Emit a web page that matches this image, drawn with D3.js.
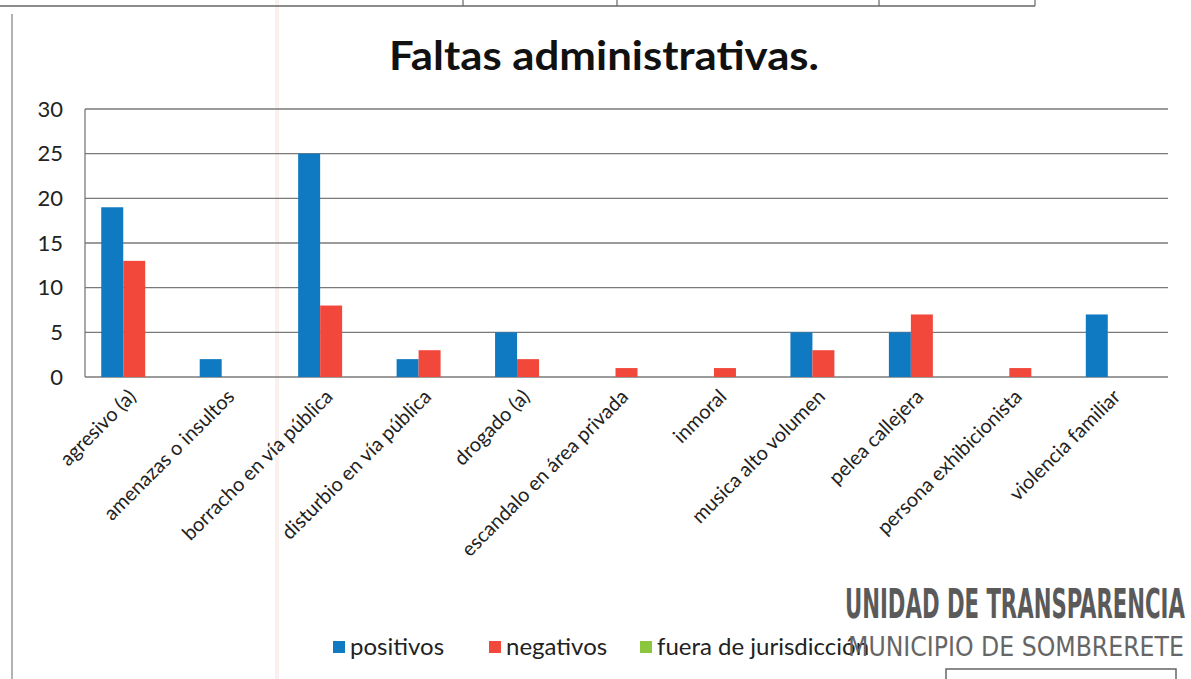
<!DOCTYPE html>
<html>
<head>
<meta charset="utf-8">
<script src="https://cdn.jsdelivr.net/npm/d3@7"></script>
<style>
  body { margin: 0; background: #fff; }
  svg { display: block; font-family: Lato, "Open Sans", sans-serif; }
</style>
</head>
<body>
<div id="chart"></div>
<script>
var categories = ["agresivo (a)", "amenazas o insultos", "borracho en vía pública",
                  "disturbio en vía pública", "drogado (a)", "escandalo en área privada",
                  "inmoral", "musica alto volumen", "pelea callejera",
                  "persona exhibicionista", "violencia familiar"];
var positivos = [19, 2, 25, 2, 5, 0, 0, 5, 5, 0, 7];
var negativos = [13, 0, 8, 3, 2, 1, 1, 3, 7, 1, 0];
var fuera = [0, 0, 0, 0, 0, 0, 0, 0, 0, 0, 0];
var seriesNames = ["positivos", "negativos", "fuera de jurisdicción"];
var yTicks = [0, 5, 10, 15, 20, 25, 30];

var w = 1191;
var h = 679;
var colors = ["#0f7ac2", "#f2483c", "#8cc63f"];

var svg = d3.select("#chart")
            .append("svg")
            .attr("width", w)
            .attr("height", h);

// scan leftovers: table above, page border, faint stripe
svg.append("line").attr("x1", 277).attr("x2", 277).attr("y1", 0).attr("y2", h)
   .attr("stroke", "#faf1ee").attr("stroke-width", 4);
svg.append("line").attr("x1", 0).attr("x2", 1035).attr("y1", 6).attr("y2", 6)
   .attr("stroke", "#666").attr("stroke-width", 1.5);
[463, 617, 879, 1035].forEach(function(x) {
    svg.append("line").attr("x1", x).attr("x2", x).attr("y1", 0).attr("y2", 6)
       .attr("stroke", "#666").attr("stroke-width", 1.2);
});
svg.append("line").attr("x1", 12).attr("x2", 12).attr("y1", 14).attr("y2", h)
   .attr("stroke", "#999").attr("stroke-width", 1.5);

var margin = {left: 85, right: 1168, top: 109, bottom: 377};

var data = categories.map(function(c, i) {
    return {cat: c, values: [positivos[i], negativos[i], fuera[i]]};
});

var x = d3.scaleBand()
          .domain(categories)
          .range([margin.left, margin.right])
          .paddingInner(0.33)
          .paddingOuter(0.165);

var x1 = d3.scaleBand()
           .domain([0, 1, 2])
           .range([0, x.bandwidth()]);

var y = d3.scaleLinear()
          .domain([0, 30])
          .range([margin.bottom, margin.top]);

// gridlines
svg.append("g")
   .selectAll("line")
   .data(yTicks)
   .enter()
   .append("line")
   .attr("x1", margin.left)
   .attr("x2", margin.right)
   .attr("y1", function(d) { return y(d); })
   .attr("y2", function(d) { return y(d); })
   .attr("stroke", "#7a7a7a")
   .attr("stroke-width", 1.3);

svg.append("line")
   .attr("x1", margin.left).attr("x2", margin.left)
   .attr("y1", margin.top).attr("y2", margin.bottom)
   .attr("stroke", "#7a7a7a").attr("stroke-width", 1.3);

// y axis labels
var yAxis = d3.axisLeft(y).tickValues(yTicks).tickSize(0).tickPadding(22);
svg.append("g")
   .attr("transform", "translate(" + margin.left + ",0)")
   .call(yAxis)
   .call(function(g) { g.select(".domain").remove(); })
   .selectAll("text")
   .attr("font-size", 22)
   .attr("font-family", "Lato, sans-serif")
   .attr("fill", "#222");

// bars
var groups = svg.append("g")
   .selectAll("g")
   .data(data)
   .enter()
   .append("g")
   .attr("transform", function(d) { return "translate(" + x(d.cat) + ",0)"; });

groups.selectAll("rect")
   .data(function(d) { return d.values; })
   .enter()
   .append("rect")
   .attr("x", function(d, i) { return x1(i); })
   .attr("y", function(d) { return y(d); })
   .attr("width", x1.bandwidth())
   .attr("height", function(d) { return y(0) - y(d); })
   .style("fill", function(d, i) { return colors[i]; });

// x labels
var xAxis = d3.axisBottom(x).tickSize(0).tickPadding(0);
svg.append("g")
   .attr("transform", "translate(0," + margin.bottom + ")")
   .call(xAxis)
   .call(function(g) { g.select(".domain").remove(); })
   .selectAll("text")
   .attr("font-size", 20)
   .attr("font-family", "Lato, sans-serif")
   .attr("fill", "#222")
   .attr("text-anchor", "end")
   .attr("dy", "0.35em")
   .attr("transform", "translate(-2,16) rotate(-45)");

// title
svg.append("text")
   .attr("x", 604)
   .attr("y", 70)
   .attr("text-anchor", "middle")
   .attr("font-size", 40)
   .attr("font-weight", "bold")
   .attr("fill", "#111")
   .attr("textLength", 430)
   .attr("lengthAdjust", "spacingAndGlyphs")
   .text("Faltas administrativas.");

// legend
var legendX = [333, 489, 640];
var legend = svg.append("g")
   .selectAll("g")
   .data(seriesNames)
   .enter()
   .append("g")
   .attr("transform", function(d, i) { return "translate(" + legendX[i] + ",647)"; });

legend.append("rect")
   .attr("x", 0).attr("y", -6)
   .attr("width", 12).attr("height", 12)
   .style("fill", function(d, i) { return colors[i]; });

legend.append("text")
   .attr("x", 17)
   .attr("y", 0)
   .attr("dy", "0.35em")
   .attr("font-size", 24)
   .attr("fill", "#222")
   .text(function(d) { return d; });

// stamp, squeezed to fit inside the page
function stampLine(txt, x0, y0, size, weight, fill, maxW) {
    var t = svg.append("text")
       .attr("font-family", "'DejaVu Sans Condensed', 'Liberation Sans', sans-serif")
       .attr("font-weight", weight)
       .attr("font-size", size)
       .attr("fill", fill)
       .text(txt);
    var natural = t.node().getComputedTextLength();
    var s = Math.min(1, maxW / natural);
    t.attr("transform", "translate(" + x0 + "," + y0 + ") scale(" + s + ",1)");
}
stampLine("UNIDAD DE TRANSPARENCIA", 845, 618, 40, "bold", "#5a5a5a", 340);
stampLine("MUNICIPIO DE SOMBRERETE", 848, 656, 27, "normal", "#666", 336);

svg.append("rect")
   .attr("x", 946).attr("y", 669).attr("width", 230).attr("height", 20)
   .attr("fill", "none").attr("stroke", "#666").attr("stroke-width", 1.5);
</script>
</body>
</html>
